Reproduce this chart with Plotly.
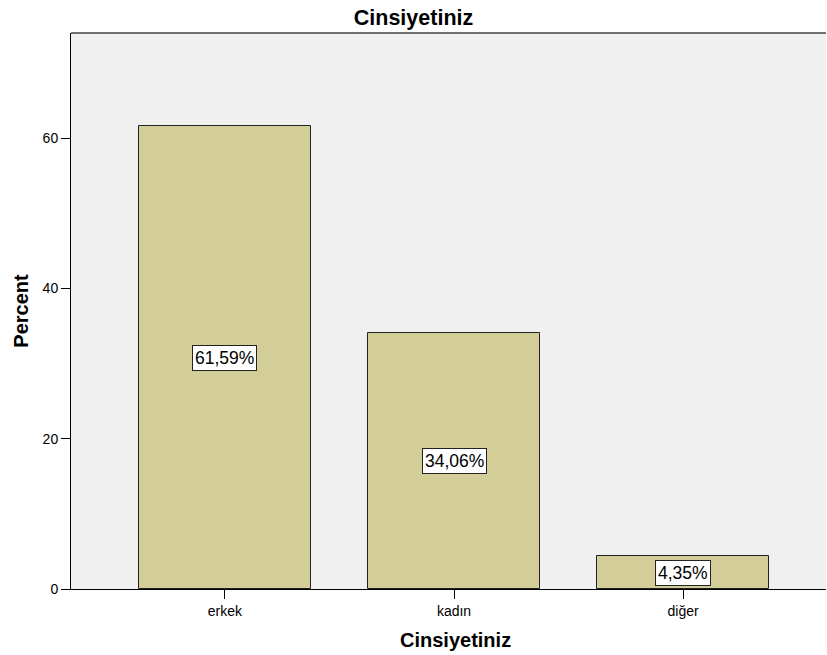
import plotly.graph_objects as go

categories = ["erkek", "kadın", "diğer"]
percents = [61.59, 34.06, 4.35]
label_texts = ["61,59%", "34,06%", "4,35%"]
y_ticks = [0, 20, 40, 60]

FONT = "Liberation Sans, Arial, sans-serif"

fig = go.Figure()
fig.add_trace(go.Bar(
    x=categories, y=percents, width=0.751,
    marker=dict(color="#d3ce97", line=dict(color="#222222", width=1)),
    hoverinfo="skip",
))

for c, v, t in zip(categories, percents, label_texts):
    fig.add_annotation(
        x=c, y=v / 2, text=t, showarrow=False,
        font=dict(family=FONT, size=17.5, color="#000000"),
        bgcolor="#ffffff", bordercolor="#222222", borderwidth=1, borderpad=2,
    )

# x-axis title placed as paper annotation
fig.add_annotation(
    xref="paper", yref="paper", x=(455 - 71) / 755, y=-(640 - 589) / 556,
    xanchor="center", yanchor="middle", showarrow=False,
    text="<b>Cinsiyetiniz</b>", font=dict(family=FONT, size=20, color="#000000"),
)

fig.update_layout(
    width=827, height=655,
    margin=dict(l=71, r=1, t=33, b=66),
    paper_bgcolor="#ffffff", plot_bgcolor="#f0f0f0",
    showlegend=False, bargap=0,
    font=dict(family=FONT, size=14, color="#000000"),
    title=dict(text="<b>Cinsiyetiniz</b>", x=0.5, xanchor="center", y=1 - 17 / 655, yanchor="middle",
               font=dict(size=21.5, color="#000000")),
    xaxis=dict(
        range=[-0.672, 2.624], showgrid=False, zeroline=False,
        showline=True, linecolor="#000000", linewidth=1,
        ticks="outside", ticklen=9, tickcolor="#000000",
        tickfont=dict(size=14),
    ),
    yaxis=dict(
        range=[0, 73.97], tickvals=y_ticks, showgrid=False, zeroline=False,
        showline=True, linecolor="#000000", linewidth=1, mirror=False,
        ticks="outside", ticklen=9, tickcolor="#000000",
        tickfont=dict(size=14),
        title=dict(text="<b>Percent</b>", font=dict(size=20), standoff=8),
    ),
)
fig.add_shape(type="line", xref="paper", yref="paper", x0=0, x1=1, y0=1, y1=1,
              line=dict(color="#707070", width=2))

fig.write_html("out.html", config={"displayModeBar": False},
               post_script="document.body.style.margin='0';document.body.style.overflow='hidden';")
